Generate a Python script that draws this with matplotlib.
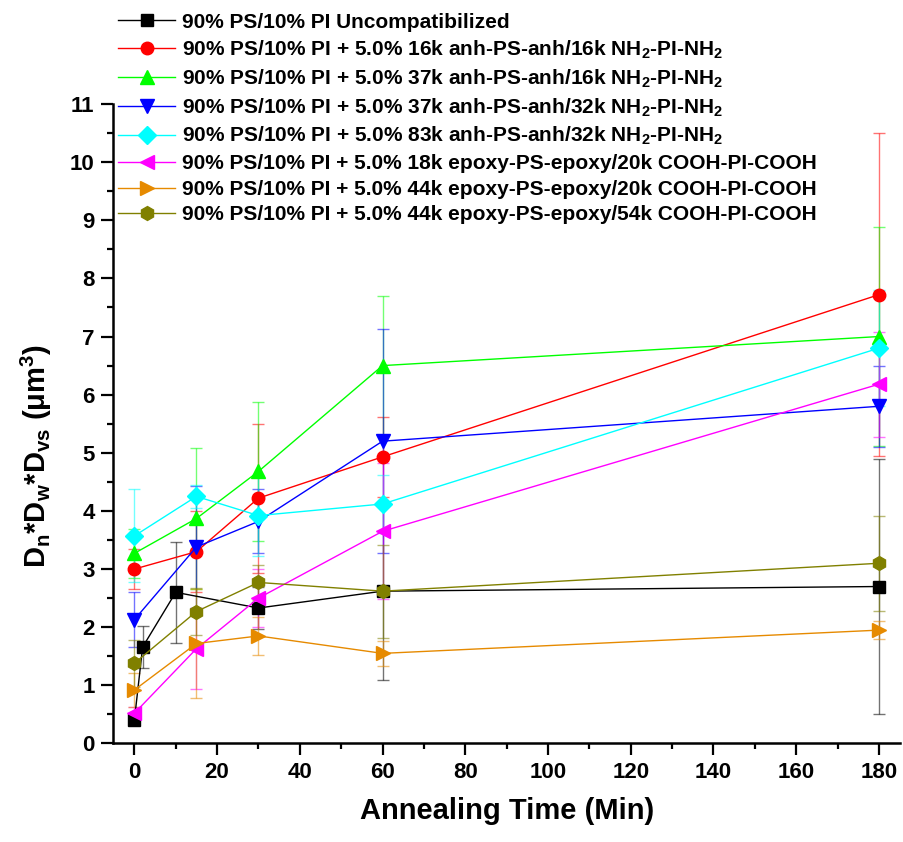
import numpy as np
import matplotlib
matplotlib.use('Agg')
from matplotlib import pyplot as plt
from matplotlib.ticker import MultipleLocator

plt.rcParams['font.family'] = ['Liberation Sans', 'DejaVu Sans']
plt.rcParams['font.weight'] = 'bold'
plt.rcParams['mathtext.fontset'] = 'custom'
plt.rcParams['mathtext.rm'] = 'Liberation Sans:bold'
plt.rcParams['mathtext.it'] = 'Liberation Sans:bold'
plt.rcParams['mathtext.bf'] = 'Liberation Sans:bold'
plt.rcParams['mathtext.default'] = 'rm'

labels = [
  '90% PS/10% PI Uncompatibilized',
  '90% PS/10% PI + 5.0% 16k anh-PS-anh/16k NH$_2$-PI-NH$_2$',
  '90% PS/10% PI + 5.0% 37k anh-PS-anh/16k NH$_2$-PI-NH$_2$',
  '90% PS/10% PI + 5.0% 37k anh-PS-anh/32k NH$_2$-PI-NH$_2$',
  '90% PS/10% PI + 5.0% 83k anh-PS-anh/32k NH$_2$-PI-NH$_2$',
  '90% PS/10% PI + 5.0% 18k epoxy-PS-epoxy/20k COOH-PI-COOH',
  '90% PS/10% PI + 5.0% 44k epoxy-PS-epoxy/20k COOH-PI-COOH',
  '90% PS/10% PI + 5.0% 44k epoxy-PS-epoxy/54k COOH-PI-COOH',
]

x_black = [0, 2, 10, 30, 60, 180]
x_std = [0, 15, 30, 60, 180]

y_black = [0.40, 1.66, 2.60, 2.33, 2.62, 2.70]
e_black = [0.05, 0.36, 0.87, 0.36, 1.53, 2.20]
y_red = [3.00, 3.30, 4.22, 4.93, 7.72]
e_red = [0.35, 0.70, 1.28, 0.69, 2.78]
y_green = [3.27, 3.87, 4.68, 6.50, 7.00]
e_green = [0.42, 1.22, 1.20, 1.20, 1.88]
y_blue = [2.13, 3.38, 3.82, 5.20, 5.80]
e_blue = [0.47, 1.05, 0.55, 1.93, 0.70]
y_cyan = [3.57, 4.25, 3.92, 4.12, 6.80]
e_cyan = [0.80, 0.20, 0.70, 0.50, 1.00]
y_magenta = [0.52, 1.63, 2.50, 3.65, 6.18]
e_magenta = [0.10, 0.70, 0.50, 1.17, 0.90]
y_orange = [0.92, 1.72, 1.85, 1.55, 1.95]
e_orange = [0.30, 0.94, 0.32, 0.22, 0.15]
y_olive = [1.38, 2.27, 2.77, 2.62, 3.10]
e_olive = [0.40, 0.40, 0.30, 0.80, 0.82]

series = [
  (x_black, y_black, e_black, '#000000', 's', 8),
  (x_std, y_red, e_red, '#ff0000', 'o', 9),
  (x_std, y_green, e_green, '#00ff00', '^', 10.5),
  (x_std, y_blue, e_blue, '#0000ff', 'v', 10.5),
  (x_std, y_cyan, e_cyan, '#00ffff', 'D', 9),
  (x_std, y_magenta, e_magenta, '#ff00ff', '<', 10.5),
  (x_std, y_orange, e_orange, '#e68a00', '>', 10.5),
  (x_std, y_olive, e_olive, '#808000', 'h', 10),
]

fig = plt.figure(figsize=(9.04, 8.42), dpi=100)
ax = fig.add_axes([0.1253, 0.117, 0.8703, 0.7595])

handles = []
for (xs, ys, es, c, m, ms), lab in zip(series, labels):
  ax.errorbar(xs, ys, yerr=es, fmt='none', ecolor=c, elinewidth=1,
              capsize=4.5, capthick=1, alpha=0.55, zorder=2)
  ln, = ax.plot(xs, ys, color=c, lw=1, marker=m, ms=ms, mec=c, mfc=c,
                label=lab, zorder=3)
  handles.append(ln)

ax.set_xlim(-5.1, 185.1)
ax.set_ylim(0, 11)
ax.xaxis.set_major_locator(MultipleLocator(20))
ax.xaxis.set_minor_locator(MultipleLocator(10))
ax.yaxis.set_major_locator(MultipleLocator(1))
ax.yaxis.set_minor_locator(MultipleLocator(0.5))

for s in ['top', 'right']:
  ax.spines[s].set_visible(False)
for s in ['left', 'bottom']:
  ax.spines[s].set_linewidth(1.8)

ax.tick_params(which='major', direction='out', length=8.5, width=1.6, labelsize=16, pad=5)
ax.tick_params(which='minor', direction='out', length=4.5, width=1.6)
for t in ax.get_xticklabels() + ax.get_yticklabels():
  t.set_fontweight('bold')

ax.set_xlabel('Annealing Time (Min)', fontsize=21, fontweight='bold')
ax.set_ylabel(r'D$_n$*D$_w$*D$_{vs}$ ($\mu$m$^3$)', fontsize=21, fontweight='bold')
ax.xaxis.set_label_coords(0.50, -0.084)
ax.yaxis.set_label_coords(-0.075, 0.45)

leg = fig.legend(handles=handles, loc='upper left', bbox_to_anchor=(0.1305, 0.985),
                 frameon=False, fontsize=15, handlelength=2.75, handletextpad=0.34,
                 labelspacing=0.32, borderaxespad=0, borderpad=0)
for t in leg.get_texts():
  t.set_fontweight('bold')

fig.savefig('out.png', dpi=100)
